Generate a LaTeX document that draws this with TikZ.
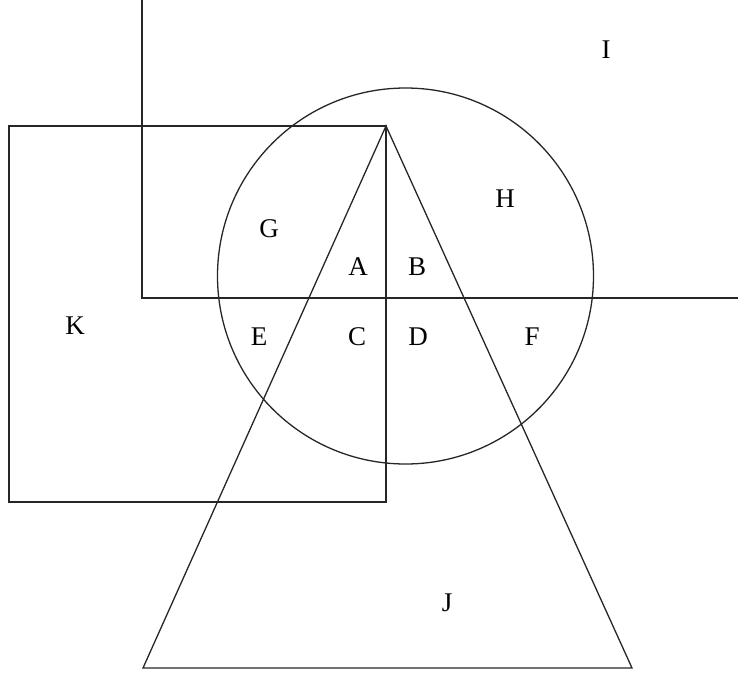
\documentclass[tikz,border=0pt]{standalone}
\usepackage{fontspec}
\setmainfont{Liberation Serif}
\begin{document}
\begin{tikzpicture}[x=1pt,y=-1pt,
  shapeline/.style={draw=black!85,line width=1.3pt},
  lbl/.style={font=\fontsize{27}{27}\selectfont,inner sep=0pt}]
\useasboundingbox (0,0) rectangle (738,677);
% quadrant I boundary
\coordinate (qtop) at (142,0);
\coordinate (qcorner) at (142,298);
\coordinate (qright) at (738,298);
\draw[shapeline] (qtop) -- (qcorner) -- (qright);
% rectangle K
\draw[shapeline] (9,126) rectangle (386,502);
% circle
\draw[shapeline] (405.5,276) circle[radius=188];
% triangle J
\coordinate (apex) at (386,126);
\coordinate (bl) at (143,668);
\coordinate (br) at (632,668);
\draw[shapeline] (apex) -- (bl) -- (br) -- cycle;
% labels
\node[lbl] (I) at (606,50) {I};
\node[lbl] (H) at (505,199) {H};
\node[lbl] (G) at (269,229) {G};
\node[lbl] (A) at (358,267) {A};
\node[lbl] (B) at (417,267) {B};
\node[lbl] (K) at (75,326) {K};
\node[lbl] (E) at (259,337) {E};
\node[lbl] (C) at (357,337) {C};
\node[lbl] (D) at (418,337) {D};
\node[lbl] (F) at (532,337) {F};
\node[lbl] (J) at (447,603) {J};
\end{tikzpicture}
\end{document}
